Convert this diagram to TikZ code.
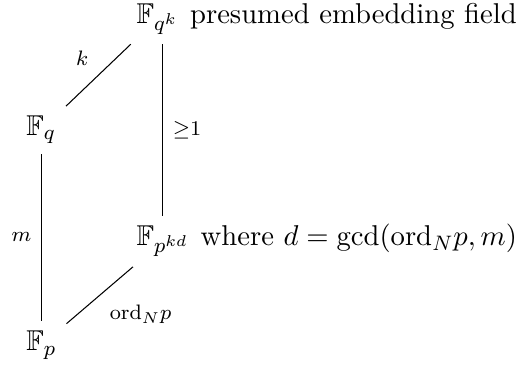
\documentclass[tikz,border=0pt,11pt]{standalone}
\usepackage{amsmath,amssymb}
\usepackage{tikz}
\usetikzlibrary{positioning}
\tikzset{
  field/.style={anchor=base west},
  note/.style={inner xsep=0pt},
  deg/.style={font=\scriptsize},
  ext/.style={thin, color=black}
}

\begin{document}
\begin{tikzpicture}
  \useasboundingbox (-0.22,-0.19) rectangle (6.79,4.71);

  % Fields
  \node[field] (Fp)   at (0, 0)       {$\mathbb{F}_p$};
  \node[field] (Fq)   at (0, 2.89)    {$\mathbb{F}_q$};
  \node[field] (Fpkd) at (1.48, 1.41) {$\mathbb{F}_{p^{kd}}$};
  \node[field] (Fqk)  at (1.48, 4.40) {$\mathbb{F}_{q^k}$};

  % Descriptions
  \node[note, base right=0.5pt of Fqk]  (Fqkdesc)  {presumed embedding field};
  \node[note, base right=0.5pt of Fpkd] (Fpkddesc) {where $d=\gcd(\mathrm{ord}_N p, m)$};

  % Extensions
  \draw[ext] (Fp) -- (Fp |- Fq.south) node[deg, midway, left]    {$m$};
  \draw[ext] (Fp) -- (Fpkd)  node[deg, midway, below right]      {$\mathrm{ord}_N p$};
  \draw[ext] (Fq) -- (Fqk)   node[deg, midway, above left]       {$k$};
  \draw[ext] (Fpkd) -- (Fpkd |- Fqk.south) node[deg, midway, right] {${\geq}1$};
\end{tikzpicture}
\end{document}
